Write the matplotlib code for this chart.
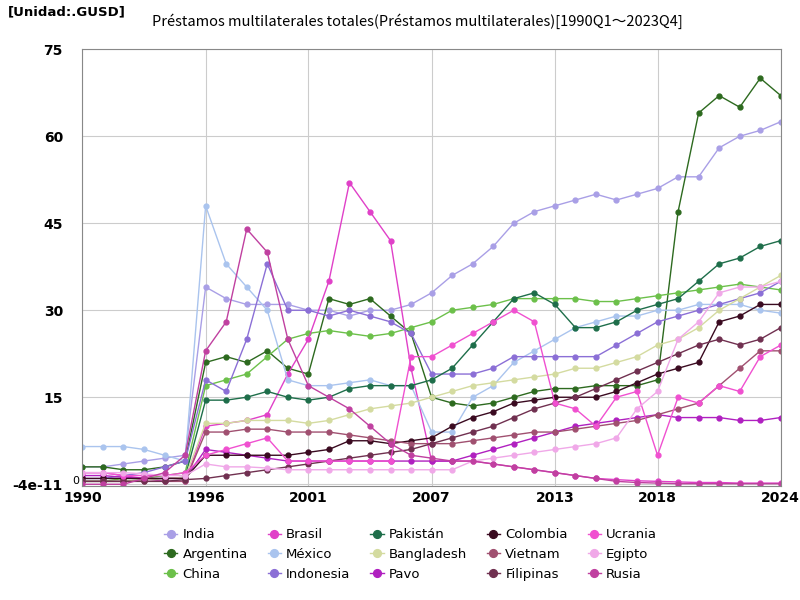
import matplotlib
matplotlib.use("Agg")
import matplotlib.pyplot as plt
import numpy as np

years = list(range(1990, 2025))

india = [3,3,3.5,4,4.5,5,34,32,31,31,31,30,30,29,30,30,31,33,36,38,41,45,47,48,49,50,49,50,51,53,53,58,60,61,62.5]
argentina = [3,3,2.5,2.5,3,4,21,22,21,23,20,19,32,31,32,29,26,15,14,13.5,14,15,16,16.5,16.5,17,17,17,18,47,64,67,65,70,67]
china = [0.5,0.5,1,1,1.5,2,17,18,19,22,25,26,26.5,26,25.5,26,27,28,30,30.5,31,32,32,32,32,31.5,31.5,32,32.5,33,33.5,34,34.5,34,33.5]
brasil = [2,2,1.5,1,0.5,0.5,10,10.5,11,12,19,25,35,52,47,42,20,4,4,4,3.5,3,2.5,2,1.5,1,0.8,0.6,0.5,0.4,0.3,0.3,0.2,0.2,0.2]
mexico = [6.5,6.5,6.5,6,5,4,48,38,34,30,18,17,17,17.5,18,17,17,9,9,15,17,21,23,25,27,28,29,29,30,30,31,31,31,30,29.5]
indonesia = [1,1,1.5,2,3,4,18,16,25,38,30,30,29,30,29,28,26,19,19,19,20,22,22,22,22,22,24,26,28,29,30,31,32,33,35]
pakistan = [0.5,0.5,0.5,0.8,1,1.2,14.5,14.5,15,16,15,14.5,15,16.5,17,17,17,18,20,24,28,32,33,31,27,27,28,30,31,32,35,38,39,41,42]
bangladesh = [0.5,0.5,0.5,0.8,1,1.2,10.5,10.5,11,11,11,10.5,11,12,13,13.5,14,15,16,17,17.5,18,18.5,19,20,20,21,22,24,25,27,30,32,34,36]
pavo = [1.5,1.5,1.2,1,1,1,6,5.5,5,4.5,4,4,4,4,4,4,4,4,4,5,6,7,8,9,10,10.5,11,11.5,12,11.5,11.5,11.5,11,11,11.5]
colombia = [1,1,1,1,1,1,5,5,5,5,5,5.5,6,7.5,7.5,7,7.5,8,10,11.5,12.5,14,14.5,15,15,15,16,17.5,19,20,21,28,29,31,31]
vietnam = [0.5,0.5,0.5,0.5,0.5,0.5,9,9,9.5,9.5,9,9,9,8.5,8,7.5,7,7,7,7.5,8,8.5,9,9,9.5,10,10.5,11,12,13,14,17,20,23,23]
filipinas = [0.5,0.5,0.5,0.5,0.5,0.8,1,1.5,2,2.5,3,3.5,4,4.5,5,5.5,6,7,8,9,10,11.5,13,14,15,16.5,18,19.5,21,22.5,24,25,24,25,27]
ucrania = [2,2,1.5,1.5,1.5,2,5,6,7,8,4,4,4,4,4,4,22,22,24,26,28,30,28,14,13,10,15,16,5,15,14,17,16,22,24]
egipto = [2,2,2,1.8,1.5,1.5,3.5,3,3,2.8,2.5,2.5,2.5,2.5,2.5,2.5,2.5,2.5,2.5,4,4.5,5,5.5,6,6.5,7,8,13,16,25,28,33,34,34,35]
rusia = [0,0,0,1,2,5,23,28,44,40,25,17,15,13,10,7,5,4.5,4,4,3.5,3,2.5,2,1.5,1,0.5,0.3,0.2,0.1,0.1,0.1,0.1,0.1,0.1]

series = [
    ("India", india, "#a99fe6"), ("Argentina", argentina, "#2d6a1f"), ("China", china, "#6cc04a"),
    ("Brasil", brasil, "#e040c8"), ("México", mexico, "#aac4ee"), ("Indonesia", indonesia, "#8b6fd6"),
    ("Pakistán", pakistan, "#1e6e4a"), ("Bangladesh", bangladesh, "#d4dba0"), ("Pavo", pavo, "#b020c0"),
    ("Colombia", colombia, "#3a0a20"), ("Vietnam", vietnam, "#a05070"), ("Filipinas", filipinas, "#703050"),
    ("Ucrania", ucrania, "#f050d0"), ("Egipto", egipto, "#f0a8e8"), ("Rusia", rusia, "#c040a0"),
]

fig = plt.figure(figsize=(8, 6), dpi=100)
ax = fig.add_axes([0.103, 0.19, 0.873, 0.728])
for name, vals, col in series:
    ax.plot(years, vals, color=col, lw=1, marker="o", ms=3.5, label=name)

ax.set_xlim(1990, 2024)
ax.set_ylim(-0.3, 75)
ax.set_xticks([1990, 1996, 2001, 2007, 2013, 2018, 2024])
ax.set_yticks([0, 15, 30, 45, 60, 75])
ax.set_yticklabels(["-4e-11", "15", "30", "45", "60", "75"])
ax.tick_params(labelsize=10, length=0)
ax.tick_params(axis="y", pad=14)
for lab in ax.get_xticklabels() + ax.get_yticklabels():
    lab.set_fontweight("bold")
ax.grid(True, color="#cccccc", lw=0.8)
for s in ax.spines.values():
    s.set_color("#888888")
ax.text(-0.004, 0.0, "0", transform=ax.transAxes, ha="right", va="bottom", fontsize=8)

fig.text(0.19, 0.965, "Préstamos multilaterales totales(Préstamos multilaterales)[1990Q1～2023Q4]",
         fontsize=10.5, family="Noto Sans CJK JP", va="center")
fig.text(0.01, 0.98, "[Unidad:.GUSD]", fontsize=9.5, fontweight="bold", va="center")

ax.legend(loc="upper center", bbox_to_anchor=(0.47, -0.07), ncol=5, frameon=False,
          fontsize=9.5, handlelength=1.0, columnspacing=1.5, handletextpad=0.4,
          markerscale=1.6)
fig.savefig("out.png", dpi=100)
